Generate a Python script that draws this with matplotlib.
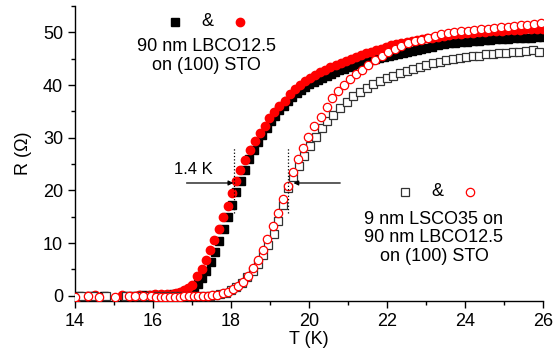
import matplotlib
matplotlib.use('Agg')
import matplotlib.pyplot as plt
from matplotlib.ticker import MultipleLocator

plt.rcParams['font.family'] = ['Liberation Sans', 'DejaVu Sans']

#%% data

# 90 nm LBCO12.5, black filled squares
T_a = [14.1, 14.4, 14.75, 15.25, 15.5, 15.75, 16.0, 16.2, 16.35, 16.5, 16.62, 16.74, 16.85, 16.95,
       17.05, 17.15, 17.26, 17.37, 17.48, 17.59, 17.7, 17.81, 17.92, 18.03, 18.14, 18.25, 18.36,
       18.47, 18.58, 18.69, 18.8, 18.91, 19.02, 19.13, 19.24, 19.35, 19.46, 19.57, 19.68, 19.79,
       19.9, 20.01, 20.12, 20.23, 20.34, 20.45, 20.56, 20.67, 20.78, 20.89, 21.0, 21.11, 21.22,
       21.33, 21.44, 21.56, 21.68, 21.8, 21.92, 22.04, 22.16, 22.28, 22.4, 22.52, 22.64, 22.76,
       22.88, 23.0, 23.15, 23.3, 23.45, 23.6, 23.75, 23.9, 24.05, 24.2, 24.35, 24.5, 24.65, 24.8,
       24.95, 25.1, 25.25, 25.4, 25.55, 25.7, 25.85, 26.0]
R_a = [0, 0, -0.1, 0, 0, 0.1, 0.1, 0.2, 0.2, 0.3, 0.4, 0.6, 0.8, 1.1,
       1.6, 2.3, 3.3, 4.7, 6.4, 8.3, 10.4, 12.6, 14.9, 17.2, 19.6, 21.8, 23.9,
       25.9, 27.6, 29.2, 30.6, 31.9, 33.1, 34.2, 35.2, 36.1, 36.9, 37.7, 38.4, 39.0,
       39.6, 40.1, 40.6, 41.0, 41.4, 41.8, 42.1, 42.5, 42.8, 43.1, 43.4, 43.7, 43.9,
       44.2, 44.4, 44.7, 44.9, 45.1, 45.3, 45.5, 45.7, 45.9, 46.1, 46.3, 46.5, 46.7,
       46.9, 47.1, 47.3, 47.5, 47.7, 47.9, 48.0, 48.1, 48.2, 48.3, 48.4, 48.5, 48.6, 48.7,
       48.7, 48.8, 48.9, 48.9, 49.0, 49.0, 49.1, 49.1]

# 90 nm LBCO12.5, red filled circles
T_b = [14.05, 14.3, 14.5, 15.2, 15.4, 15.65, 15.9, 16.05, 16.2, 16.35, 16.5, 16.6, 16.7, 16.8,
       16.9, 17.0, 17.14, 17.25, 17.36, 17.46, 17.57, 17.68, 17.79, 17.91, 18.02, 18.13, 18.23,
       18.36, 18.49, 18.62, 18.74, 18.87, 18.98, 19.11, 19.24, 19.38, 19.51, 19.64, 19.77, 19.9,
       20.03, 20.16, 20.29, 20.42, 20.55, 20.68, 20.81, 20.94, 21.07, 21.2, 21.33, 21.46, 21.59,
       21.72, 21.85, 21.98, 22.11, 22.24, 22.37, 22.5, 22.63, 22.76, 22.89, 23.02, 23.15, 23.3,
       23.45, 23.6, 23.75, 23.9, 24.05, 24.2, 24.35, 24.5, 24.65, 24.8, 24.95, 25.1, 25.25, 25.4,
       25.55, 25.7, 25.85, 26.0]
R_b = [-0.2, 0, 0.2, 0.1, 0, 0.1, 0.2, 0.3, 0.3, 0.3, 0.4, 0.5, 0.7, 1.0,
       1.4, 2.1, 3.8, 5.1, 6.7, 8.6, 10.6, 12.6, 14.9, 17.1, 19.5, 21.7, 23.8,
       25.7, 27.7, 29.3, 30.8, 32.3, 33.7, 34.9, 36.0, 37.0, 38.3, 39.3, 40.0, 40.7,
       41.3, 41.9, 42.4, 42.9, 43.4, 43.8, 44.2, 44.6, 45.0, 45.4, 45.7, 46.0, 46.3,
       46.6, 46.9, 47.2, 47.5, 47.7, 47.9, 48.1, 48.3, 48.5, 48.7, 48.9, 49.0, 49.2,
       49.3, 49.5, 49.6, 49.7, 49.8, 49.9, 50.0, 50.1, 50.2, 50.3, 50.3, 50.4, 50.5, 50.5,
       50.6, 50.6, 50.7, 50.7]

# 9 nm LSCO35 on 90 nm LBCO12.5, black open squares
T_c = [14.15, 14.45, 14.8, 15.3, 15.6, 15.85, 16.1, 16.3, 16.5, 16.7, 16.85, 17.0, 17.15, 17.3,
       17.45, 17.6, 17.73, 17.86, 17.99, 18.13, 18.27, 18.42, 18.56, 18.7, 18.83, 18.96, 19.09,
       19.21, 19.34, 19.47, 19.6, 19.75, 19.88, 20.03, 20.18, 20.33, 20.45, 20.62, 20.79, 20.97,
       21.14, 21.31, 21.48, 21.65, 21.82, 21.99, 22.16, 22.33, 22.5, 22.67, 22.84, 23.01, 23.18,
       23.35, 23.52, 23.69, 23.86, 24.03, 24.2, 24.37, 24.54, 24.71, 24.88, 25.05, 25.22, 25.39,
       25.56, 25.73, 25.9]
R_c = [0, 0, 0, 0, 0, 0, -0.1, 0, 0, 0, 0, 0, 0, 0,
       0, 0.1, 0.3, 0.6, 1.1, 1.7, 2.5, 3.5, 4.6, 6.1, 7.8, 9.7, 11.7,
       14.1, 17.3, 20.4, 22.6, 24.7, 26.5, 28.4, 30.2, 31.8, 33.2, 34.3, 35.6, 36.8,
       37.9, 38.7, 39.4, 40.1, 40.7, 41.3, 41.8, 42.3, 42.7, 43.1, 43.5, 43.8, 44.1,
       44.4, 44.7, 44.9, 45.1, 45.3, 45.5, 45.6, 45.8, 45.9, 46.0, 46.1, 46.2, 46.3,
       46.4, 46.7, 46.3]

# 9 nm LSCO35 on 90 nm LBCO12.5, red open circles
T_d = [14.0, 14.33, 14.62, 15.03, 15.39, 15.55, 15.75, 15.95, 16.08, 16.2, 16.32, 16.44, 16.56,
       16.68, 16.8, 16.92, 17.04, 17.16, 17.28, 17.4, 17.52, 17.64, 17.8, 17.93, 18.06, 18.19,
       18.32, 18.44, 18.57, 18.7, 18.81, 18.93, 19.07, 19.2, 19.34, 19.47, 19.6, 19.73, 19.85,
       19.98, 20.14, 20.3, 20.45, 20.58, 20.75, 20.9, 21.05, 21.2, 21.35, 21.52, 21.69, 21.86,
       22.03, 22.2, 22.37, 22.54, 22.71, 22.88, 23.05, 23.22, 23.39, 23.56, 23.73, 23.9, 24.07,
       24.24, 24.41, 24.58, 24.75, 24.92, 25.09, 25.26, 25.43, 25.6, 25.77, 25.94]
R_d = [-0.3, 0, -0.3, -0.3, 0, 0, -0.1, -0.1, -0.2, -0.2, -0.2, -0.2, -0.2,
       -0.2, -0.1, -0.1, -0.1, 0, 0, 0, 0.1, 0.2, 0.5, 0.8, 1.3, 1.9,
       2.7, 3.8, 5.3, 6.8, 8.6, 10.8, 13.3, 15.7, 18.4, 20.9, 23.4, 25.9, 28.0,
       30.2, 32.2, 34.0, 35.8, 37.5, 38.9, 40.0, 41.1, 42.1, 42.9, 43.8, 44.7, 45.6,
       46.3, 46.9, 47.4, 47.9, 48.3, 48.6, 49.0, 49.3, 49.6, 49.8, 50.0, 50.2, 50.3,
       50.5, 50.6, 50.7, 50.9, 51.0, 51.1, 51.2, 51.3, 51.4, 51.6, 51.7]

# width markers (T at dotted lines, R range, arrow level)
T_tc = [18.08, 19.47]
R_dot = [15.7, 28.2]
R_arrow = 21.4

#%% plot
fig = plt.figure(figsize=(5.54, 3.63), dpi=100)
ax = fig.add_axes([0.1354, 0.1708, 0.8448, 0.8127])

ms = 5.5
fs = 13
ax.plot(T_a, R_a, 's', color='black', ms=ms, mec='black', zorder=2)
ax.plot(T_b, R_b, 'o', color='red', ms=ms + 0.5, mec='red', zorder=3)
ax.plot(T_c, R_c, 's', mfc='white', mec='#333333', mew=0.9, ms=ms, zorder=4)
ax.plot(T_d, R_d, 'o', mfc='white', mec='red', mew=0.9, ms=ms + 0.5, zorder=5)

# dotted lines and arrows
for t in T_tc:
    ax.plot([t, t], R_dot, ':', color='black', lw=0.9, zorder=6)
ax.annotate('', xy=(T_tc[0] - 0.02, R_arrow), xytext=(16.86, R_arrow),
            arrowprops=dict(arrowstyle='-|>', color='black', lw=0.9, mutation_scale=7,
                            shrinkA=0, shrinkB=0), zorder=7)
ax.annotate('', xy=(19.6, R_arrow), xytext=(20.8, R_arrow),
            arrowprops=dict(arrowstyle='-|>', color='black', lw=0.9, mutation_scale=7,
                            shrinkA=0, shrinkB=0), zorder=7)
ax.text(17.03, 23.9, '1.4 K', fontsize=12, ha='center', va='center')

# legend-like labels
tr = ax.transAxes
ax.plot(0.2137, 0.947, 's', color='black', ms=ms, transform=tr, clip_on=False)
ax.text(0.282, 0.947, '&', fontsize=fs, ha='center', va='center', transform=tr)
ax.plot(0.3526, 0.947, 'o', color='red', ms=ms + 0.5, transform=tr, clip_on=False)
ax.text(0.28, 0.829, '90 nm LBCO12.5\non (100) STO', fontsize=fs, ha='center', va='center',
        transform=tr, linespacing=1.15)

ax.plot(0.705, 0.3695, 's', mfc='white', mec='#333333', mew=0.9, ms=ms, transform=tr)
ax.text(0.7735, 0.3695, '&', fontsize=fs, ha='center', va='center', transform=tr)
ax.plot(0.844, 0.3695, 'o', mfc='white', mec='red', mew=0.9, ms=ms + 0.5, transform=tr)
ax.text(0.767, 0.2136, '9 nm LSCO35 on\n90 nm LBCO12.5\non (100) STO', fontsize=fs,
        ha='center', va='center', transform=tr, linespacing=1.15)

# axes styling
ax.set_xlim(14, 26)
ax.set_ylim(-1, 55)
ax.xaxis.set_major_locator(MultipleLocator(2))
ax.xaxis.set_minor_locator(MultipleLocator(1))
ax.yaxis.set_major_locator(MultipleLocator(10))
ax.yaxis.set_minor_locator(MultipleLocator(5))
ax.spines['top'].set_visible(False)
ax.spines['right'].set_visible(False)
for s in ['left', 'bottom']:
    ax.spines[s].set_linewidth(1.0)
ax.tick_params(which='major', direction='out', length=5, width=1.0, labelsize=fs)
ax.tick_params(which='minor', direction='out', length=3, width=1.0)
ax.set_xlabel('T (K)', fontsize=fs, labelpad=1)
ax.set_ylabel('R (\u03a9)', fontsize=fs, labelpad=8)

fig.savefig('out.png', dpi=100)
